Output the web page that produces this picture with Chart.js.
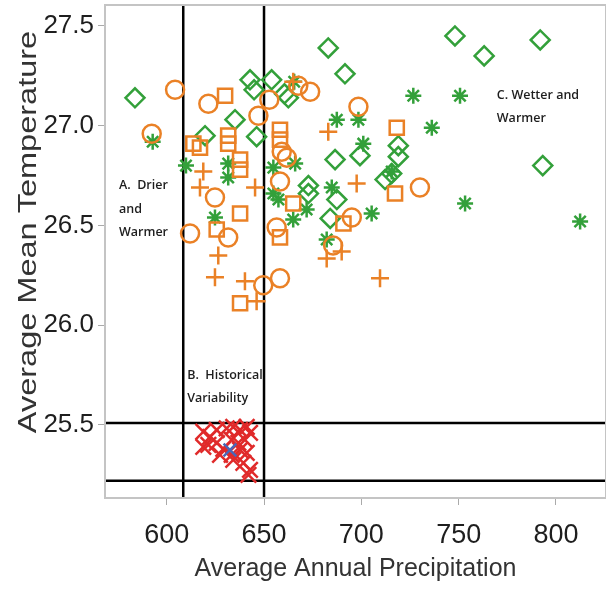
<!DOCTYPE html>
<html>
<head>
<meta charset="utf-8">
<script src="https://cdn.jsdelivr.net/npm/chart.js@4.4.0/dist/chart.umd.min.js"></script>
<style>
  html, body { margin: 0; padding: 0; background: #fff; overflow: hidden; }
</style>
</head>
<body>
<canvas id="myChart" width="606" height="590"></canvas>
<script>
// Ejes
const xMin = 568.3, xMax = 825.7;
const yMin = 25.134, yMax = 27.605;
const xTicks = [600, 650, 700, 750, 800];
const yTicks = [25.5, 26.0, 26.5, 27.0, 27.5];
const yTitle = 'Average Mean Temperature';

// Lineas de referencia
const vLines = [608.5, 650];
const hLines = [25.51, 25.22];

// Puntos naranja: circulos
const orangeCircles = [
  [604.3, 27.18], [592.3, 26.96], [621.4, 27.11], [647.1, 27.05], [652.7, 27.13],
  [667.6, 27.20], [673.7, 27.17], [624.8, 26.64], [612, 26.46], [631.6, 26.44],
  [659.1, 26.87], [661.7, 26.84], [658.2, 26.72], [656.5, 26.49], [698.5, 27.095],
  [730.1, 26.69], [695.1, 26.54], [649.6, 26.20], [658.2, 26.235], [685.5, 26.40]
];
// Puntos naranja: cuadrados
const orangeSquares = [
  [630, 27.15], [613.7, 26.91], [617.1, 26.89], [631.6, 26.95], [631.6, 26.91],
  [637.7, 26.83], [637.7, 26.78], [637.7, 26.56], [625.7, 26.48], [658.2, 26.98],
  [658.2, 26.93], [665, 26.61], [658.2, 26.44], [718.2, 26.99], [717.3, 26.66],
  [690.8, 26.51], [637.7, 26.11]
];
// Puntos naranja: cruces
const orangePlus = [
  [683, 26.97], [618.8, 26.77], [617.1, 26.69], [645.4, 26.69], [697.6, 26.71],
  [709.6, 26.235], [689.9, 26.37], [626.5, 26.35], [624.8, 26.24], [640.2, 26.22],
  [646.2, 26.12], [682.2, 26.335], [665, 27.22]
];
// Puntos verdes: rombos
const greenDiamonds = [
  [583.7, 27.14], [642.8, 27.23], [644.9, 27.18], [653.9, 27.23], [635.1, 27.03],
  [662.5, 27.14], [660.5, 27.16], [683, 27.39], [691.6, 27.26], [686.5, 26.83],
  [619.7, 26.95], [646.2, 26.945], [672.8, 26.70], [672.8, 26.66], [699.3, 26.85],
  [712.2, 26.73], [715.6, 26.76], [687.4, 26.63], [748.1, 27.45], [763.1, 27.35],
  [791.9, 27.43], [793.2, 26.80], [719, 26.90], [719, 26.845], [684, 26.535]
];
// Puntos verdes: asteriscos
const greenStars = [
  [592.8, 26.92], [631.6, 26.81], [631.6, 26.74], [609.9, 26.80], [624.8, 26.54],
  [654.8, 26.79], [666, 26.81], [657.4, 26.63], [671.9, 26.58], [665, 26.53],
  [698.5, 27.03], [687.4, 27.03], [701, 26.91], [684.8, 26.69], [726.7, 27.15],
  [750.7, 27.15], [736.2, 26.99], [715.6, 26.77], [753.3, 26.61], [812.4, 26.52],
  [705.3, 26.56], [682.2, 26.43], [665.5, 27.22], [654.8, 26.66]
];
// Variabilidad historica
const redCrosses = [
  [618.8, 25.466], [622.3, 25.44], [625.7, 25.475], [630.8, 25.483], [634.2, 25.49],
  [637.7, 25.475], [641.1, 25.49], [642.8, 25.46], [621.4, 25.40], [625.7, 25.41],
  [629.1, 25.38], [633.4, 25.425], [636.8, 25.41], [640.2, 25.425], [627.4, 25.35],
  [633.4, 25.35], [637.7, 25.375], [641.1, 25.36], [639.4, 25.31], [642.8, 25.275],
  [642, 25.25], [634.2, 25.325], [618.8, 25.39]
];
const blueCross = [[632.5, 25.375]];

// Textos
const notes = [
  { x: 575.5, y: 26.70, lines: ['A.  Drier', 'and', 'Warmer'] },
  { x: 610.5, y: 25.75, lines: ['B.  Historical', 'Variability'] },
  { x: 769.6, y: 27.154, lines: ['C. Wetter and', 'Warmer'] }
];

const ORANGE = '#ea8126';
const GREEN = '#33a03a';

function pts(arr) {
  return arr.map(p => ({ x: p[0], y: p[1] }));
}

function markers(data, style, color, radius, order) {
  return {
    data: pts(data),
    pointStyle: style,
    pointRadius: radius,
    pointHoverRadius: radius,
    pointBorderWidth: 2.5,
    borderColor: color,
    backgroundColor: 'rgba(0,0,0,0)',
    showLine: false,
    order: order
  };
}

function refLine(data) {
  return {
    type: 'line',
    data: data,
    borderColor: '#000',
    borderWidth: 2.5,
    pointRadius: 0,
    showLine: true,
    fill: false,
    order: 10
  };
}

const datasets = [
  markers(greenDiamonds, 'rectRot', GREEN, 9.5, 6),
  markers(greenStars, 'star', GREEN, 8, 5),
  markers(orangeCircles, 'circle', ORANGE, 9, 4),
  markers(orangeSquares, 'rect', ORANGE, 10, 3),
  markers(orangePlus, 'cross', ORANGE, 9, 2),
  markers(redCrosses, 'crossRot', '#e02a2a', 11, 1),
  markers(blueCross, 'crossRot', '#4a67b8', 9, 0)
];
vLines.forEach(v => datasets.push(refLine([{ x: v, y: yMin }, { x: v, y: yMax }])));
hLines.forEach(h => datasets.push(refLine([{ x: xMin, y: h }, { x: xMax, y: h }])));

// Marco del area, titulo del eje y notas
const framePlugin = {
  id: 'frame',
  afterDatasetsDraw(chart) {
    const { ctx, chartArea: a, scales } = chart;
    ctx.save();
    ctx.strokeStyle = '#c4c4c4';
    ctx.lineWidth = 2;
    ctx.strokeRect(a.left, a.top, a.right - a.left, a.bottom - a.top);

    // titulo del eje y (estirado como en la imagen)
    ctx.save();
    ctx.translate(29, 232);
    ctx.rotate(-Math.PI / 2);
    ctx.scale(1.3, 1);
    ctx.fillStyle = '#333';
    ctx.font = '25px "Liberation Sans", Arial';
    ctx.textAlign = 'center';
    ctx.textBaseline = 'middle';
    ctx.fillText(yTitle, 0, 0);
    ctx.restore();

    ctx.fillStyle = '#1e1e1e';
    ctx.font = '600 12.5px "Open Sans"';
    ctx.textBaseline = 'middle';
    ctx.textAlign = 'left';
    notes.forEach(n => {
      const px = scales.x.getPixelForValue(n.x);
      const py = scales.y.getPixelForValue(n.y);
      n.lines.forEach((t, i) => ctx.fillText(t, px, py + i * 23.5));
    });
    ctx.restore();
  }
};

const ctx = document.getElementById('myChart').getContext('2d');
const chart = new Chart(ctx, {
  type: 'scatter',
  data: { datasets: datasets },
  options: {
    responsive: false,
    animation: false,
    layout: { autoPadding: false, padding: { top: 5, right: 0, left: 0, bottom: 0 } },
    plugins: { legend: { display: false }, tooltip: { enabled: false } },
    scales: {
      x: {
        type: 'linear',
        min: xMin,
        max: xMax,
        afterBuildTicks: s => { s.ticks = xTicks.map(v => ({ value: v })); },
        afterFit: s => { s.height = 92; s.paddingLeft = 0; s.paddingRight = 0; },
        grid: { drawOnChartArea: false, tickLength: 7, color: '#aaa' },
        border: { display: false },
        ticks: {
          color: '#1e1e1e',
          font: { family: '"Liberation Sans", Arial', size: 27 },
          padding: 14,
          maxRotation: 0,
          callback: v => String(v)
        },
        title: {
          display: true,
          text: 'Average Annual Precipitation',
          color: '#333',
          font: { family: '"Liberation Sans", Arial', size: 25 },
          padding: { top: 0, bottom: 6 }
        }
      },
      y: {
        type: 'linear',
        min: yMin,
        max: yMax,
        afterBuildTicks: s => { s.ticks = yTicks.map(v => ({ value: v })); },
        afterFit: s => { s.width = 105; s.paddingTop = 0; s.paddingBottom = 0; },
        grid: { drawOnChartArea: false, tickLength: 7, color: '#aaa' },
        border: { display: false },
        ticks: {
          color: '#1e1e1e',
          font: { family: '"Liberation Sans", Arial', size: 26 },
          padding: 4,
          callback: v => v.toFixed(1)
        },
        title: { display: false }
      }
    }
  },
  plugins: [framePlugin]
});
</script>
</body>
</html>
